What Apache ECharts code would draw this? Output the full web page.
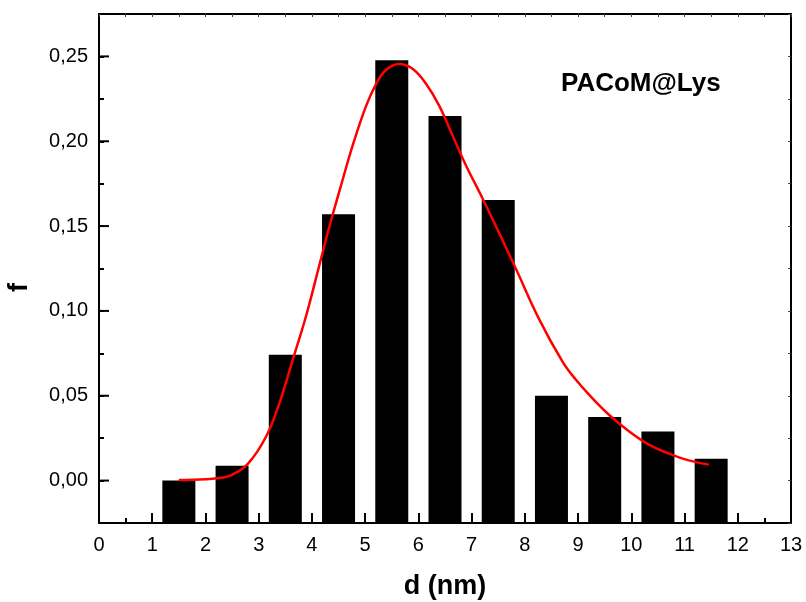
<!DOCTYPE html>
<html>
<head>
<meta charset="utf-8">
<script src="https://cdn.jsdelivr.net/npm/echarts@6/dist/echarts.min.js"></script>
<style>html,body{margin:0;padding:0;background:#fff}#c{width:806px;height:602px}</style>
</head>
<body>
<div id="c"></div>
<script>
// ---- data ----
const binCenters = [1.5, 2.5, 3.5, 4.5, 5.5, 6.5, 7.5, 8.5, 9.5, 10.5, 11.5];
const binFreq    = [0.000, 0.0087, 0.0742, 0.157, 0.2478, 0.2149, 0.1653, 0.0500, 0.0375, 0.0290, 0.0128];
const fitX = [1.5, 2.0, 2.3, 2.5, 2.8, 3.14, 3.39, 3.64, 3.89, 4.14, 4.33, 4.52, 4.77, 5.02, 5.21, 5.39, 5.64, 5.89, 6.14, 6.39, 6.64, 6.89, 7.21, 7.52, 7.83, 8.27, 8.71, 8.96, 9.21, 9.58, 9.96, 10.33, 10.71, 11.08, 11.46];
const fitY = [0.0003, 0.0008, 0.0017, 0.0034, 0.0100, 0.026, 0.0457, 0.0712, 0.097, 0.127, 0.150, 0.171, 0.198, 0.221, 0.234, 0.2420, 0.2455, 0.2427, 0.234, 0.221, 0.2035, 0.186, 0.166, 0.1457, 0.125, 0.0950, 0.0700, 0.0594, 0.0505, 0.0388, 0.029, 0.0212, 0.0159, 0.0119, 0.0094];
const xMin = 0, xMax = 13;
const yMin = -0.025, yMax = 0.275;
const yMajorTicks = [0, 0.05, 0.10, 0.15, 0.20, 0.25];
const sampleLabel = 'PACoM@Lys';
const xTitle = 'd (nm)';
const yTitle = 'f';

// ---- chart ----
const FF = '"Liberation Sans", Arial, sans-serif';
const axisLineStyle = {color: '#000', width: 2};
const chart = echarts.init(document.getElementById('c'), null, {renderer: 'canvas'});
const halfBar = 0.31;

chart.setOption({
  animation: false,
  backgroundColor: '#fff',
  textStyle: {fontFamily: FF},
  title: {
    text: sampleLabel, left: 561, top: 71, padding: 0,
    textStyle: {fontSize: 26, fontWeight: 'bold', color: '#000', fontFamily: FF}
  },
  grid: {left: 99, right: 15, top: 14, bottom: 79, outerBoundsMode: 'none', containLabel: false},
  xAxis: [{
    type: 'value', min: xMin, max: xMax, interval: 1, position: 'bottom',
    axisLine: {show: true, onZero: false, lineStyle: axisLineStyle},
    axisTick: {show: true, inside: true, length: 10, lineStyle: {color: '#000', width: 2}},
    minorTick: {show: true, splitNumber: 2, length: 5, lineStyle: {color: '#000', width: 2}},
    splitLine: {show: false}, minorSplitLine: {show: false},
    axisLabel: {fontSize: 20, color: '#000', margin: 12, fontFamily: FF},
    name: xTitle, nameLocation: 'middle', nameGap: 50,
    nameTextStyle: {fontSize: 27, fontWeight: 'bold', color: '#000', fontFamily: FF}
  }, {
    type: 'value', min: xMin, max: xMax, interval: 0.5, position: 'top',
    axisLine: {show: true, onZero: false, lineStyle: axisLineStyle},
    axisTick: {show: true, inside: true, length: 3, lineStyle: {color: '#444', width: 1}},
    axisLabel: {show: false}, splitLine: {show: false}
  }],
  yAxis: [{
    type: 'value', min: yMin, max: yMax, interval: 0.025, position: 'left',
    axisLine: {show: true, onZero: false, lineStyle: axisLineStyle},
    axisTick: {show: true, inside: true, length: 5, lineStyle: {color: '#000', width: 2}},
    splitLine: {show: false},
    axisLabel: {
      fontSize: 20, color: '#000', margin: 11, fontFamily: FF,
      formatter: function (v) {
        const k = Math.round(v * 1000);
        if (k % 50 !== 0) return '';
        return (k / 1000).toFixed(2).replace('.', ',');
      }
    },
    name: yTitle, nameLocation: 'middle', nameGap: 66,
    nameTextStyle: {fontSize: 27, fontWeight: 'bold', color: '#000', fontFamily: FF, padding: [0, 38, 0, 0]}
  }, {
    type: 'value', min: yMin, max: yMax, interval: 0.025, position: 'right',
    axisLine: {show: true, onZero: false, lineStyle: axisLineStyle},
    axisTick: {show: true, inside: true, length: 3, lineStyle: {color: '#444', width: 1}},
    axisLabel: {show: false}, splitLine: {show: false}
  }],
  series: [{
    type: 'custom', name: 'bars', xAxisIndex: 0, yAxisIndex: 0,
    data: binCenters.map((x, i) => [x, binFreq[i]]),
    renderItem: function (params, api) {
      const x = api.value(0), v = api.value(1);
      const p1 = api.coord([x - halfBar, v]);
      const p2 = api.coord([x + halfBar, yMin]);
      return {type: 'rect', shape: {x: p1[0], y: p1[1], width: p2[0] - p1[0], height: p2[1] - p1[1]},
              style: {fill: '#000'}};
    },
    z: 2, silent: true
  }, {
    type: 'custom', name: 'majorTicks', xAxisIndex: 0, yAxisIndex: 0,
    data: yMajorTicks.map(v => [xMin, v]),
    renderItem: function (params, api) {
      const p = api.coord([api.value(0), api.value(1)]);
      return {type: 'line', shape: {x1: p[0], y1: p[1], x2: p[0] + 10, y2: p[1]},
              style: {stroke: '#000', lineWidth: 2}};
    },
    z: 3, silent: true
  }, {
    type: 'line', name: 'fit', xAxisIndex: 0, yAxisIndex: 0,
    data: fitX.map((x, i) => [x, fitY[i]]),
    smooth: 0.4, showSymbol: false, symbol: 'none',
    lineStyle: {color: '#ff0000', width: 2.5},
    z: 4, silent: true
  }]
});
</script>
</body>
</html>
